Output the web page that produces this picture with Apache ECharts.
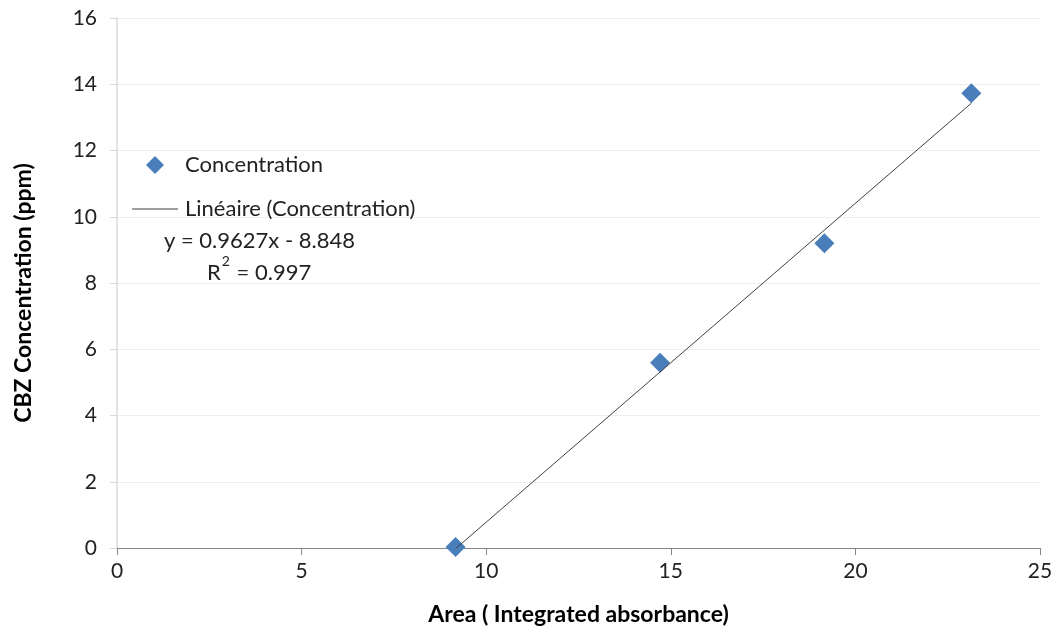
<!DOCTYPE html>
<html>
<head>
<meta charset="utf-8">
<script src="https://cdn.jsdelivr.net/npm/echarts@6/dist/echarts.min.js"></script>
<style>
  html, body { margin: 0; padding: 0; background: #ffffff; }
  #chart { width: 1059px; height: 634px; }
</style>
</head>
<body>
<div id="chart"></div>
<script>
// Calibration points: integrated absorbance area vs CBZ concentration
const areaValues = [9.17, 14.71, 19.16, 23.14];
const concentrationValues = [0.03, 5.59, 9.20, 13.73];

// Linear fit reported for the calibration
const fitSlope = 0.9627;
const fitIntercept = -8.848;
const fitR2 = 0.997;

const xTicks = [0, 5, 10, 15, 20, 25];
const yTicks = [0, 2, 4, 6, 8, 10, 12, 14, 16];

const seriesName = 'Concentration';
const fitName = 'Linéaire (Concentration)';

const FONT = 'Lato, "Open Sans", sans-serif';

const points = areaValues.map((x, i) => [x, concentrationValues[i]]);
const xMin = Math.min(...areaValues);
const xMax = Math.max(...areaValues);
const fitLine = [xMin, xMax].map(x => [x, fitSlope * x + fitIntercept]);

const eqText = 'y = ' + fitSlope + 'x - ' + Math.abs(fitIntercept);

const chart = echarts.init(document.getElementById('chart'));
chart.setOption({
  backgroundColor: '#ffffff',
  animation: false,
  grid: { left: 117, right: 19, top: 18, bottom: 86, containLabel: false },
  xAxis: {
    type: 'value',
    min: xTicks[0],
    max: xTicks[xTicks.length - 1],
    interval: xTicks[1] - xTicks[0],
    name: 'Area ( Integrated absorbance)',
    nameLocation: 'middle',
    nameGap: 55,
    nameTextStyle: { fontFamily: FONT, fontSize: 23, fontWeight: 'bold', color: '#000000' },
    axisLine: { show: true, onZero: false, lineStyle: { color: '#868686', width: 1 } },
    axisTick: { show: true, length: 7, lineStyle: { color: '#868686' } },
    axisLabel: { margin: 13, fontFamily: FONT, fontSize: 21, color: '#222222' },
    splitLine: { show: false }
  },
  yAxis: {
    type: 'value',
    min: yTicks[0],
    max: yTicks[yTicks.length - 1],
    interval: yTicks[1] - yTicks[0],
    name: 'CBZ Concentration (ppm)',
    nameLocation: 'middle',
    nameGap: 82,
    nameTextStyle: { fontFamily: FONT, fontSize: 23, fontWeight: 'bold', color: '#000000', padding: [0, 20, 0, 0] },
    axisLine: { show: true, lineStyle: { color: '#d9d9d9', width: 1.5 } },
    axisTick: { show: true, length: 7, lineStyle: { color: '#d9d9d9' } },
    axisLabel: { margin: 20, fontFamily: FONT, fontSize: 21, color: '#222222' },
    splitLine: { show: true, lineStyle: { color: '#eeeeee', width: 1 } }
  },
  legend: [
    {
      orient: 'vertical',
      left: 146,
      top: 154,
      padding: 0,
      itemWidth: 18,
      itemHeight: 18,
      data: [{ name: seriesName, icon: 'diamond' }],
      textStyle: { fontFamily: FONT, fontSize: 22, color: '#222222', padding: [0, 0, 0, 16] }
    },
    {
      orient: 'vertical',
      left: 132,
      top: 198,
      padding: 0,
      itemWidth: 46,
      itemHeight: 1,
      data: [{ name: fitName, icon: 'rect', itemStyle: { color: '#404040' } }],
      textStyle: { fontFamily: FONT, fontSize: 22, color: '#222222', padding: [0, 0, 0, 2] }
    }
  ],
  graphic: [
    {
      type: 'text',
      left: 164,
      top: 230,
      style: { text: eqText, fontFamily: FONT, fontSize: 22, fill: '#222222' }
    },
    {
      type: 'text',
      left: 207,
      top: 254,
      style: {
        text: '{b|R}{s|2}{b| = ' + fitR2 + '}',
        rich: {
          b: { fontFamily: FONT, fontSize: 22, fill: '#222222', verticalAlign: 'bottom', lineHeight: 30 },
          s: { fontFamily: FONT, fontSize: 14, fill: '#222222', verticalAlign: 'top', lineHeight: 30, padding: [0, 1, 0, 1] }
        }
      }
    }
  ],
  series: [
    {
      name: fitName,
      type: 'line',
      data: fitLine,
      symbol: 'none',
      lineStyle: { color: '#404040', width: 1 },
      z: 3
    },
    {
      name: seriesName,
      type: 'scatter',
      data: points,
      symbol: 'diamond',
      symbolSize: 20,
      itemStyle: { color: '#4a7ebb', opacity: 1 },
      z: 2
    }
  ]
});
</script>
</body>
</html>
